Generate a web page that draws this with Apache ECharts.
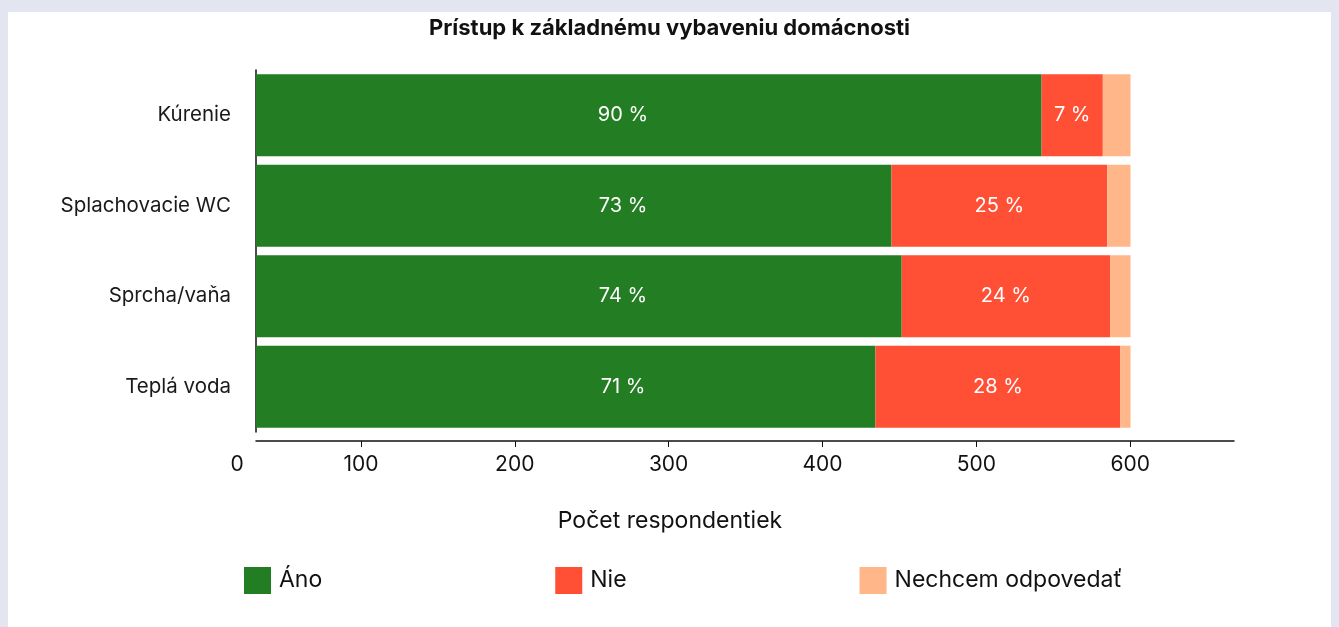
<!DOCTYPE html>
<html>
<head>
<meta charset="utf-8">
<script src="https://cdn.jsdelivr.net/npm/echarts@6/dist/echarts.min.js"></script>
<style>
  html, body { margin: 0; padding: 0; background: #e3e5f1; }
  #panel { position: absolute; left: 8px; top: 12px; width: 1323px; height: 615px; background: #fff; }
  #chart { position: absolute; left: 0; top: 0; width: 1339px; height: 627px; }
</style>
</head>
<body>
<div id="panel"></div>
<div id="chart"></div>
<script>
var categories = ['Kúrenie', 'Splachovacie WC', 'Sprcha/vaňa', 'Teplá voda'];
var ano = [539, 436, 443, 425];
var nie = [42, 148, 143, 168];
var nechcem = [19, 16, 14, 7];
var tickValues = [100, 200, 300, 400, 500, 600];

var totals = ano.map(function (v, i) { return v + nie[i] + nechcem[i]; });
function pct(p) { return Math.round(p.value / totals[p.dataIndex] * 100) + ' %'; }

var font = 'Inter';
var chartDom = document.getElementById('chart');
var myChart = echarts.init(chartDom);
var option;

option = {
  backgroundColor: 'transparent',
  textStyle: { fontFamily: font },
  title: {
    text: 'Prístup k základnému vybaveniu domácnosti',
    left: 'center',
    top: 12,
    textStyle: { fontSize: 22, fontWeight: 'bold', color: '#111', fontFamily: font }
  },
  grid: { left: 256, right: 105, top: 70, height: 362 },
  legend: {
    left: 244,
    top: 567,
    padding: 0,
    icon: 'rect',
    itemWidth: 27,
    itemHeight: 27,
    itemGap: 233,
    textStyle: { fontSize: 23, color: '#111', padding: [0, 0, 0, 3], fontFamily: font },
    data: ['Áno', 'Nie', 'Nechcem odpovedať']
  },
  xAxis: [
    {
      type: 'value',
      position: 'bottom',
      offset: 9,
      min: 31.8,
      max: 667.5,
      name: 'Počet respondentiek',
      nameLocation: 'middle',
      nameGap: 69,
      nameTextStyle: { fontSize: 23, color: '#111', fontFamily: font, padding: [0, 150, 0, 0] },
      axisLine: { show: true, lineStyle: { color: '#111', width: 1.5 } },
      axisTick: { show: true, length: 6, customValues: tickValues, lineStyle: { color: '#111' } },
      axisLabel: {
        fontSize: 21,
        color: '#111',
        margin: 13,
        customValues: [31.8].concat(tickValues),
        formatter: function (v) { return v < 50 ? '{z|0}' : String(v); },
        rich: { z: { fontSize: 21, color: '#111', padding: [0, 38, 0, 0], fontFamily: font } }
      },
      splitLine: { show: false }
    },
    {
      type: 'value',
      position: 'top',
      min: 0,
      max: 671,
      show: false
    }
  ],
  yAxis: {
    type: 'category',
    inverse: true,
    data: categories,
    axisLine: { show: true, lineStyle: { color: '#111', width: 1.5 } },
    axisTick: { show: false },
    axisLabel: { fontSize: 20.5, color: '#1a1a1a', margin: 25, padding: [6, 0, 0, 0] }
  },
  series: [
    {
      name: 'Áno',
      type: 'bar',
      stack: 'all',
      xAxisIndex: 1,
      barWidth: 82,
      itemStyle: { color: '#237d22' },
      label: {
        show: true, position: [367, '50%'], align: 'center', verticalAlign: 'middle',
        color: '#fff', fontSize: 20, padding: [5, 0, 0, 0], formatter: pct
      },
      data: ano
    },
    {
      name: 'Nie',
      type: 'bar',
      stack: 'all',
      xAxisIndex: 1,
      barWidth: 82,
      itemStyle: { color: '#ff4f35' },
      label: { show: true, position: 'inside', color: '#fff', fontSize: 20, padding: [5, 0, 0, 0], formatter: pct },
      data: nie
    },
    {
      name: 'Nechcem odpovedať',
      type: 'bar',
      stack: 'all',
      xAxisIndex: 1,
      barWidth: 82,
      itemStyle: { color: '#ffb78a' },
      data: nechcem
    }
  ]
};

option && myChart.setOption(option);
</script>
</body>
</html>
